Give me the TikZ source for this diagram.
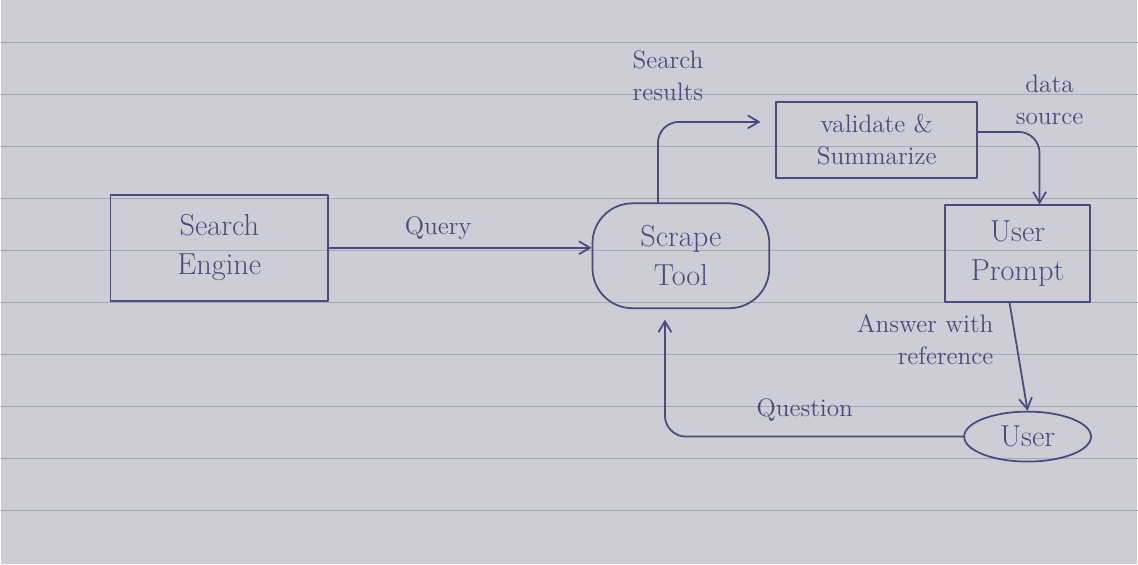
\documentclass[tikz,border=0pt]{standalone}
\usetikzlibrary{positioning,arrows.meta,shapes.geometric}
\definecolor{ink}{RGB}{72,76,122}
\definecolor{paper}{RGB}{204,205,214}
\definecolor{ruling}{RGB}{165,167,180}

\begin{document}
\begin{tikzpicture}[
    x=0.02cm, y=-0.02cm,
    line cap=round, line join=round,
    every node/.style={text=ink},
    box/.style={draw=ink, line width=1pt, align=center, font=\LARGE},
    blob/.style={draw=ink, line width=1pt, align=center, font=\LARGE,
                 rounded corners=0.8cm},
    oval/.style={draw=ink, line width=1pt, ellipse, font=\LARGE, inner sep=0pt},
    flow/.style={draw=ink, line width=1pt, rounded corners=12pt,
                 -{Straight Barb[length=2.2mm,width=2.6mm]}},
    lbl/.style={font=\Large, align=center},
  ]

  % ---- paper ------------------------------------------------
  \fill[paper] (0,0) rectangle (1138,565);
  \foreach \y in {43,95,...,511}
    \draw[ruling, line width=0.6pt] (0,\y) -- (1138,\y);

  % ---- blocks -----------------------------------------------
  \node[box, minimum width=4.36cm, minimum height=2.12cm] (engine)   at ( 219,248) {Search\\Engine};
  \node[blob, minimum width=3.54cm, minimum height=2.10cm] (tool)    at ( 681,256) {Scrape\\Tool};
  \node[box, font=\Large, minimum width=4.02cm, minimum height=1.52cm] (validate) at ( 877,140) {validate \&\\Summarize};
  \node[box, minimum width=2.90cm, minimum height=1.94cm] (prompt)   at (1018,254) {User\\Prompt};
  \node[oval, minimum width=2.54cm, minimum height=1.00cm] (user)    at (1028,437) {User};

  % ---- connectors -------------------------------------------
  \draw[flow] (engine.east) -- (engine.east -| tool.west);
  \draw[flow] ([xshift=-0.46cm]tool.north) |- ([yshift=0.36cm, xshift=-0.3cm]validate.west);
  \draw[flow] ([yshift=0.16cm]validate.east) -| ([xshift=0.44cm]prompt.north);
  \draw[flow] ([xshift=-0.16cm]prompt.south) -- (user.north);
  \draw[flow, shorten >=6pt] (user.west) -| ([xshift=-0.32cm]tool.south);

  % ---- labels -----------------------------------------------
  \node[lbl] (lquery)    at ( 438,228) {Query};
  \node[lbl] (lresults)  at ( 668, 76) {Search\\results};
  \node[lbl] (lsource)   at (1050,100) {data\\source};
  \node[lbl, align=right, anchor=east] (lanswer) at (1000,340) {Answer with\\reference};
  \node[lbl] (lquestion) at ( 805,410) {Question};

\end{tikzpicture}
\end{document}
